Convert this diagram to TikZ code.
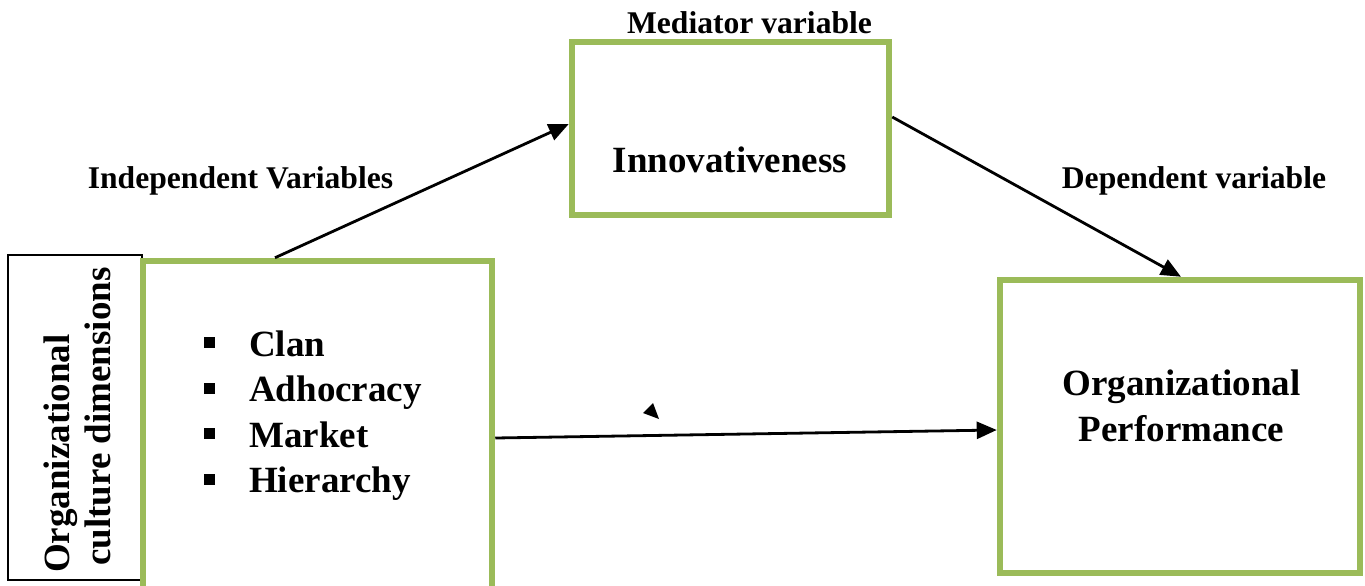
\documentclass[tikz,border=0pt]{standalone}
\usepackage{fontspec}
\setmainfont{Liberation Serif}
\usetikzlibrary{arrows.meta}
\definecolor{olivegreen}{RGB}{155,187,89}
\begin{document}
\begin{tikzpicture}[x=1pt,y=-1pt,
  greenbox/.style={draw=olivegreen,line width=6.5pt,fill=white,inner sep=0pt},
  blackbox/.style={draw=black,line width=1.8pt,inner sep=0pt},
  bigtext/.style={font=\fontsize{37}{46}\selectfont\bfseries,inner sep=0pt},
  labeltext/.style={font=\fontsize{31.6}{38}\selectfont\bfseries,inner sep=0pt},
  bulletsq/.style={fill=black,minimum size=11pt,inner sep=0pt},
  conn/.style={line width=2.8pt,-{Triangle[length=20pt,width=17pt]}}]
\path[use as bounding box,clip] (0,0) rectangle (1365,586);

% side label box
\node[blackbox,minimum width=134pt,minimum height=325pt] (side) at (75,417.5) {};
\node[bigtext,rotate=90,anchor=base west] (sideA) at (69,573) {Organizational};
\node[bigtext,rotate=90,anchor=base west] (sideB) at (110,566) {culture dimensions};

% culture dimensions box (runs off the bottom edge)
\node[greenbox,minimum width=349pt,minimum height=330pt] (cult) at (317.5,426) {};
\node[bulletsq] (b1) at (209.5,342.5) {};
\node[bulletsq] (b2) at (209.5,388) {};
\node[bulletsq] (b3) at (209.5,433.5) {};
\node[bulletsq] (b4) at (209.5,479) {};
\node[bigtext,anchor=base west] (t1) at (249,356) {Clan};
\node[bigtext,anchor=base west] (t2) at (249,401.5) {Adhocracy};
\node[bigtext,anchor=base west] (t3) at (249,447) {Market};
\node[bigtext,anchor=base west] (t4) at (249,492.5) {Hierarchy};

% mediator box
\node[greenbox,minimum width=317pt,minimum height=173pt] (innov) at (730.5,128.5) {};
\node[bigtext,anchor=base] (innovT) at (730,172) {Innovativeness};
\node[labeltext,anchor=base] (medL) at (749.5,34) {Mediator variable};

% outcome box
\node[greenbox,minimum width=360pt,minimum height=293pt] (perf) at (1180,426.5) {};
\node[bigtext,anchor=base,align=center] (perfA) at (1181.5,395) {Organizational};
\node[bigtext,anchor=base,align=center] (perfB) at (1181.5,441.5) {Performance};

% group labels
\node[labeltext,anchor=base] (indL) at (240.5,188) {Independent Variables};
\node[labeltext,anchor=base] (depL) at (1194,188) {Dependent variable};

% connectors
\draw[conn] (275,0 |- cult.north) -- (innov.west |- 0,124);
\draw[conn] (innov.east |- 0,117) -- (perf.north -| 1181,0);
\draw[conn] (cult.east |- 0,438) -- (perf.west |- 0,430);

% loose arrow head
\fill (653,403) -- (643,413) -- (659,419) -- cycle;
\end{tikzpicture}
\end{document}
